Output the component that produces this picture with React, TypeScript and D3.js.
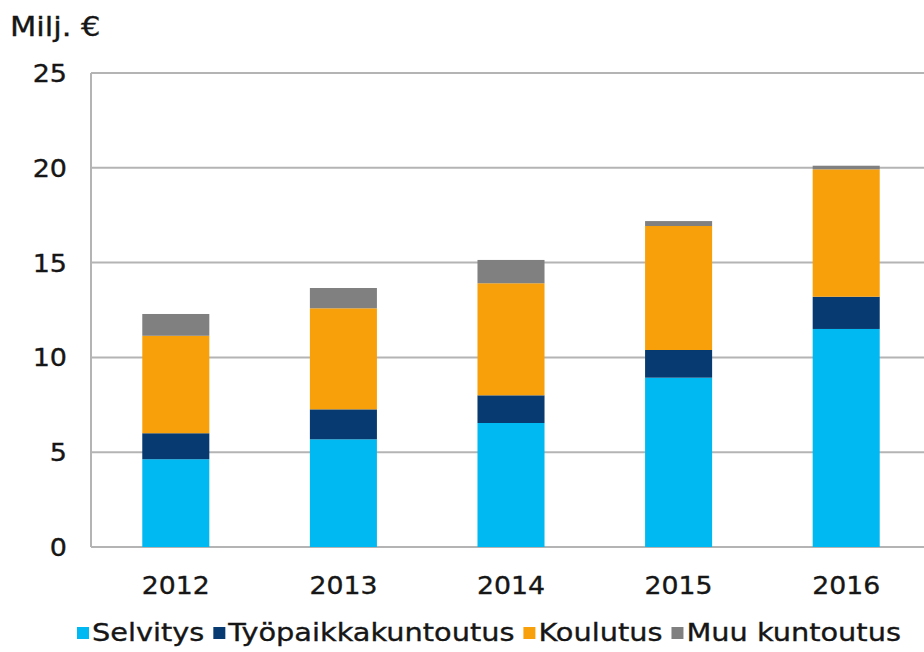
import React, { useEffect, useRef } from "react";
import * as d3 from "d3";

const years = ["2012", "2013", "2014", "2015", "2016"];
const selvitys = [4.63, 5.68, 6.54, 8.93, 11.5];
const tyopaikka = [1.37, 1.58, 1.46, 1.46, 1.7];
const koulutus = [5.14, 5.33, 5.91, 6.54, 6.72];
const muu = [1.15, 1.07, 1.23, 0.26, 0.19];
const seriesKeys = ["Selvitys", "Työpaikkakuntoutus", "Koulutus", "Muu kuntoutus"];
const seriesColors = ["#00b9f2", "#063a70", "#f8a00a", "#808080"];
const yTicks = [0, 5, 10, 15, 20, 25];
const yLabel = "Milj. €";

const W = 924;
const H = 652;
const FONT = "'DejaVu Sans', Verdana, sans-serif";
const TXT = "#161616";

export default function App() {
  const ref = useRef<SVGSVGElement | null>(null);

  useEffect(() => {
    const svg = d3.select(ref.current);
    svg.selectAll("*").remove();

    const rows = years.map((y, i) => ({
      year: y,
      Selvitys: selvitys[i],
      Työpaikkakuntoutus: tyopaikka[i],
      Koulutus: koulutus[i],
      "Muu kuntoutus": muu[i],
    }));

    const x = d3.scaleBand().domain(years).range([92, 930]).paddingInner(0.6).paddingOuter(0.3);
    const y = d3.scaleLinear().domain([0, 25]).range([547, 73]);

    const styleText = (sel: any) =>
      sel
        .attr("font-family", FONT)
        .attr("fill", TXT)
        .attr("stroke", TXT)
        .attr("stroke-width", 0.35);

    // gridlines
    svg
      .append("g")
      .selectAll("line")
      .data(yTicks)
      .join("line")
      .attr("x1", 91)
      .attr("x2", W)
      .attr("y1", (d) => y(d))
      .attr("y2", (d) => y(d))
      .attr("stroke", "#b4b4b4")
      .attr("stroke-width", 2);

    // y axis line
    svg
      .append("line")
      .attr("x1", 91)
      .attr("x2", 91)
      .attr("y1", y(25))
      .attr("y2", y(0))
      .attr("stroke", "#b4b4b4")
      .attr("stroke-width", 2);

    // y tick labels
    svg
      .append("g")
      .selectAll("text")
      .data(yTicks)
      .join("text")
      .attr("transform", (d) => `translate(67,${y(d) + 9}) scale(1.08,1)`)
      .attr("text-anchor", "end")
      .attr("font-size", 25)
      .call(styleText)
      .text((d) => String(d));

    // stacks
    const stack = d3.stack<any>().keys(seriesKeys);
    const stacked = stack(rows);
    svg
      .append("g")
      .selectAll("g")
      .data(stacked)
      .join("g")
      .attr("fill", (_, i) => seriesColors[i])
      .selectAll("rect")
      .data((d) => d)
      .join("rect")
      .attr("x", (d: any) => x(d.data.year)!)
      .attr("width", x.bandwidth())
      .attr("y", (d) => y(d[1]))
      .attr("height", (d) => y(d[0]) - y(d[1]));

    // x labels
    svg
      .append("g")
      .selectAll("text")
      .data(years)
      .join("text")
      .attr("transform", (d) => `translate(${x(d)! + x.bandwidth() / 2},594) scale(1.07,1)`)
      .attr("text-anchor", "middle")
      .attr("font-size", 25)
      .call(styleText)
      .text((d) => d);

    // title
    svg
      .append("text")
      .attr("transform", `translate(10,36) scale(1.13,1)`)
      .attr("font-size", 27)
      .call(styleText)
      .text(yLabel);

    // legend
    const lg = svg.append("g");
    let cx = 77;
    const sx = 1.152;
    seriesKeys.forEach((k, i) => {
      lg.append("rect")
        .attr("x", cx)
        .attr("y", 627)
        .attr("width", 12)
        .attr("height", 12)
        .attr("fill", seriesColors[i]);
      const t = lg
        .append("text")
        .attr("transform", `translate(${cx + 15},641) scale(${sx},1)`)
        .attr("font-size", 25)
        .call(styleText)
        .text(k);
      const w = (t.node() as SVGTextElement).getComputedTextLength() * sx;
      cx = cx + 15 + w + 9;
    });
  }, []);

  return (
    <svg
      ref={ref}
      width={W}
      height={H}
      style={{ position: "absolute", left: 0, top: 0, background: "#fff" }}
    />
  );
}
